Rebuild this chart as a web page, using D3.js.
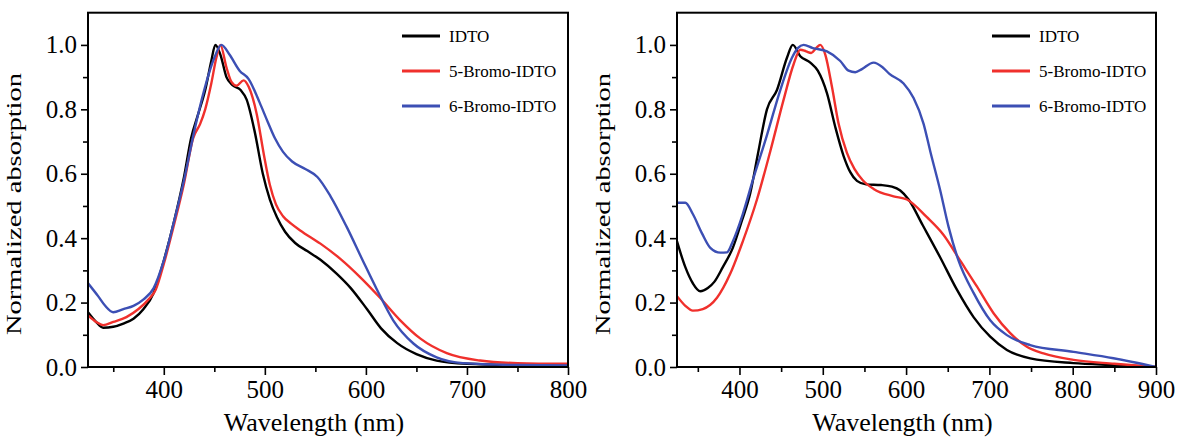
<!DOCTYPE html>
<html>
<head>
<meta charset="utf-8">
<script src="https://cdn.jsdelivr.net/npm/d3@7"></script>
<style>
  html, body { margin: 0; padding: 0; background: #fff; }
  svg { display: block; }
  text { font-family: "Liberation Serif", "Times New Roman", serif; fill: #000; }
</style>
</head>
<body>
<svg id="chart" width="1180" height="437"></svg>
<script>
// ---------- data ----------
const seriesNames = ["IDTO", "5-Bromo-IDTO", "6-Bromo-IDTO"];
const seriesColors = ["#000000", "#f0302c", "#3c4fb4"];

// Left panel
const leftIDTO = [[325,0.17],[333,0.14],[340,0.122],[350,0.125],[360,0.135],[370,0.15],[380,0.18],[390,0.23],[400,0.33],[410,0.45],[420,0.59],[427,0.71],[434,0.785],[441,0.86],[447,0.95],[451,1.0],[456,0.97],[462,0.90],[468,0.875],[476,0.86],[482,0.83],[490,0.73],[498,0.60],[505,0.52],[512,0.465],[520,0.42],[530,0.385],[542,0.36],[555,0.333],[571,0.29],[585,0.245],[601,0.18],[615,0.12],[631,0.074],[650,0.04],[670,0.02],[700,0.01],[750,0.006],[800,0.005]];
const leftBr5 = [[325,0.16],[333,0.14],[340,0.13],[350,0.14],[363,0.155],[375,0.18],[385,0.21],[392,0.24],[400,0.32],[410,0.44],[420,0.57],[429,0.71],[436,0.755],[441,0.80],[447,0.88],[452,0.96],[456,1.0],[462,0.93],[467,0.885],[472,0.873],[479,0.89],[484,0.87],[492,0.785],[499,0.66],[505,0.565],[511,0.505],[518,0.468],[526,0.445],[535,0.424],[555,0.383],[575,0.335],[594,0.28],[614,0.215],[634,0.145],[654,0.088],[680,0.043],[713,0.02],[750,0.012],[800,0.01]];
const leftBr6 = [[325,0.26],[335,0.22],[342,0.19],[350,0.17],[360,0.18],[370,0.19],[380,0.21],[390,0.245],[400,0.33],[410,0.45],[420,0.58],[430,0.73],[440,0.86],[450,0.96],[457,1.0],[465,0.97],[475,0.92],[484,0.894],[495,0.82],[503,0.76],[510,0.71],[518,0.668],[527,0.638],[540,0.615],[552,0.59],[565,0.53],[581,0.435],[597,0.33],[611,0.24],[627,0.145],[647,0.073],[670,0.03],[696,0.012],[750,0.006],[800,0.005]];

// Right panel
const rightIDTO = [[325,0.39],[335,0.31],[344,0.26],[353,0.235],[362,0.245],[370,0.265],[380,0.31],[392,0.37],[403,0.455],[413,0.54],[422,0.66],[433,0.80],[445,0.86],[457,0.96],[464,1.0],[473,0.965],[485,0.945],[494,0.92],[505,0.85],[515,0.745],[525,0.655],[533,0.605],[541,0.578],[552,0.567],[570,0.565],[583,0.56],[593,0.548],[603,0.52],[620,0.44],[641,0.34],[661,0.24],[681,0.155],[701,0.094],[721,0.053],[749,0.027],[801,0.012],[850,0.006],[900,0.0]];
const rightBr5 = [[325,0.22],[335,0.19],[344,0.175],[356,0.18],[373,0.215],[389,0.29],[404,0.39],[421,0.52],[437,0.67],[453,0.83],[465,0.94],[473,0.985],[480,0.98],[486,0.975],[492,0.99],[497,1.0],[503,0.97],[511,0.87],[519,0.755],[529,0.665],[538,0.615],[548,0.58],[561,0.553],[585,0.53],[601,0.52],[625,0.465],[645,0.41],[665,0.33],[685,0.25],[705,0.167],[725,0.105],[745,0.063],[765,0.042],[801,0.022],[850,0.01],[900,0.0]];
const rightBr6 = [[325,0.51],[335,0.51],[344,0.475],[355,0.415],[365,0.37],[377,0.355],[385,0.356],[392,0.39],[404,0.475],[416,0.58],[433,0.72],[449,0.86],[463,0.96],[470,0.99],[477,1.0],[488,0.99],[505,0.98],[521,0.95],[531,0.92],[539,0.915],[547,0.925],[561,0.945],[572,0.93],[580,0.91],[597,0.88],[609,0.835],[621,0.755],[629,0.67],[641,0.548],[651,0.435],[663,0.33],[681,0.23],[701,0.145],[721,0.099],[749,0.068],[801,0.047],[849,0.027],[900,0.0]];

const yMajorTicks = [0, 0.2, 0.4, 0.6, 0.8, 1.0];
const yMinorTicks = [0.1, 0.3, 0.5, 0.7, 0.9];
const leftXMajor = [400, 500, 600, 700, 800];
const leftXMinor = [350, 450, 550, 650, 750];
const rightXMajor = [400, 500, 600, 700, 800, 900];
const rightXMinor = [350, 450, 550, 650, 750, 850];

const panels = [
  { id: "L", xDomain: [325, 800], x0: 88, x1: 568, data: [leftIDTO, leftBr5, leftBr6],
    xMajor: leftXMajor, xMinor: leftXMinor, yTitleX: 21, legendX: 402 },
  { id: "R", xDomain: [325, 900], x0: 677, x1: 1156, data: [rightIDTO, rightBr5, rightBr6],
    xMajor: rightXMajor, xMinor: rightXMinor, yTitleX: 610, legendX: 992 }
];

const svg = d3.select("#chart");
const yTop = 12.7, yBot = 367;

panels.forEach(p => {
  const x = d3.scaleLinear().domain(p.xDomain).range([p.x0, p.x1]);
  const y = d3.scaleLinear().domain([0, 1.1]).range([yBot, yTop]);
  const g = svg.append("g");

  g.append("clipPath").attr("id", "clip" + p.id)
    .append("rect").attr("x", p.x0).attr("y", yTop).attr("width", p.x1 - p.x0).attr("height", yBot - yTop);

  // curves
  const line = d3.line().x(d => x(d[0])).y(d => y(d[1])).curve(d3.curveMonotoneX);
  p.data.forEach((ser, i) => {
    g.append("path").datum(ser)
      .attr("d", line)
      .attr("fill", "none")
      .attr("stroke", seriesColors[i])
      .attr("stroke-width", 2.4)
      .attr("stroke-linejoin", "round")
      .attr("clip-path", "url(#clip" + p.id + ")");
  });

  // axes: minor ticks
  g.append("g").attr("transform", `translate(0,${yBot})`)
    .call(d3.axisBottom(x).tickValues(p.xMinor).tickSize(5).tickFormat(""))
    .call(a => a.select(".domain").remove())
    .call(a => a.selectAll("line").attr("stroke-width", 1.6));
  g.append("g").attr("transform", `translate(${p.x0},0)`)
    .call(d3.axisLeft(y).tickValues(yMinorTicks).tickSize(5).tickFormat(""))
    .call(a => a.select(".domain").remove())
    .call(a => a.selectAll("line").attr("stroke-width", 1.6));

  // major ticks
  const xa = g.append("g").attr("transform", `translate(0,${yBot})`)
    .call(d3.axisBottom(x).tickValues(p.xMajor).tickSize(8).tickPadding(5).tickFormat(d3.format("d")));
  xa.select(".domain").remove();
  xa.selectAll("line").attr("stroke-width", 1.6);
  xa.selectAll("text").attr("font-size", 25).attr("font-family", "Liberation Serif").attr("fill", "#222");

  const ya = g.append("g").attr("transform", `translate(${p.x0},0)`)
    .call(d3.axisLeft(y).tickValues(yMajorTicks).tickSize(7).tickPadding(4).tickFormat(d3.format(".1f")));
  ya.select(".domain").remove();
  ya.selectAll("line").attr("stroke-width", 1.6);
  ya.selectAll("text").attr("font-size", 25).attr("font-family", "Liberation Serif").attr("fill", "#222");

  // frame
  g.append("rect").attr("x", p.x0).attr("y", yTop).attr("width", p.x1 - p.x0).attr("height", yBot - yTop)
    .attr("fill", "none").attr("stroke", "#000").attr("stroke-width", 2);

  // titles
  g.append("text")
    .attr("x", (p.x0 + p.x1) / 2 - 14).attr("y", 431)
    .attr("text-anchor", "middle").attr("font-size", 26).attr("fill", "#222")
    .text("Wavelength (nm)");
  g.append("text")
    .attr("transform", `translate(${p.yTitleX},204) rotate(-90)`)
    .attr("text-anchor", "middle").attr("font-size", 22).attr("fill", "#222")
    .attr("textLength", 262).attr("lengthAdjust", "spacingAndGlyphs")
    .text("Normalized absorption");

  // legend
  const rows = [36, 71, 106];
  seriesNames.forEach((name, i) => {
    g.append("line")
      .attr("x1", p.legendX).attr("x2", p.legendX + 38)
      .attr("y1", rows[i]).attr("y2", rows[i])
      .attr("stroke", seriesColors[i]).attr("stroke-width", 3);
    g.append("text")
      .attr("x", p.legendX + 47).attr("y", rows[i] + 6)
      .attr("font-size", 17).attr("fill", "#111")
      .text(name);
  });
});
</script>
</body>
</html>
